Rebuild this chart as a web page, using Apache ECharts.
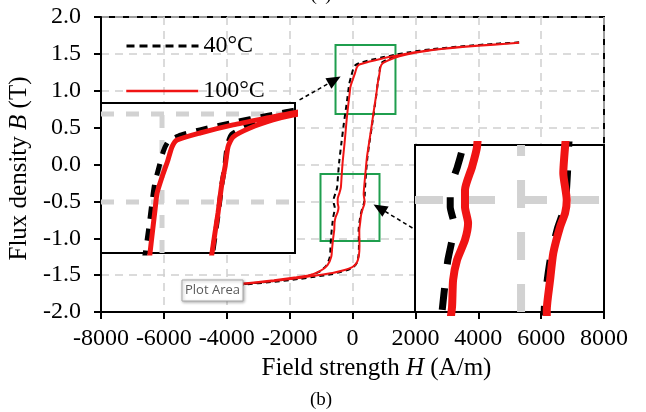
<!DOCTYPE html>
<html>
<head>
<meta charset="utf-8">
<script src="https://cdn.jsdelivr.net/npm/echarts@6/dist/echarts.min.js"></script>
<style>html,body{margin:0;padding:0;background:#fff}#c{width:646px;height:412px}</style>
</head>
<body>
<div id="c"></div>
<script>
// ---- data (H in A/m, B in T) ----
const xTicks = [-8000, -6000, -4000, -2000, 0, 2000, 4000, 6000, 8000];
const yTicks = [-2.0, -1.5, -1.0, -0.5, 0.0, 0.5, 1.0, 1.5, 2.0];
const seriesNames = ['40°C', '100°C'];

const desc100 = [[5300,1.65],[4500,1.628],[3500,1.595],[2500,1.552],[1758,1.506],[1409,1.477],[953,1.438],[510,1.392],[201,1.352],[134,1.313],[80,1.239],[0,1.142],[-67,1.05],[-94,0.955],[-121,0.858],[-161,0.71],[-200,0.54],[-250,0.3],[-310,0.05],[-345,-0.15],[-370,-0.31],[-412,-0.382],[-471,-0.464],[-471,-0.525],[-445,-0.582],[-471,-0.643],[-538,-0.715],[-571,-0.787],[-580,-0.884],[-615,-1.0],[-645,-1.12],[-675,-1.25],[-795,-1.363],[-1050,-1.45],[-1400,-1.505],[-1790,-1.53],[-2500,-1.57],[-3500,-1.615],[-4500,-1.645],[-5300,-1.66]];
const asc100 = [[-5300,-1.66],[-4500,-1.648],[-3500,-1.62],[-2500,-1.58],[-1700,-1.54],[-1200,-1.508],[-636,-1.47],[-250,-1.43],[0,-1.39],[140,-1.33],[205,-1.23],[222,-1.1],[218,-0.99],[216,-0.894],[244,-0.787],[271,-0.69],[328,-0.596],[370,-0.547],[384,-0.5],[355,-0.404],[370,-0.309],[410,-0.12],[460,0.1],[530,0.3],[600,0.5],[671,0.71],[711,0.824],[752,0.938],[779,1.028],[805,1.108],[846,1.199],[886,1.313],[953,1.369],[1181,1.42],[1490,1.466],[1758,1.494],[2500,1.548],[3500,1.592],[4500,1.625],[5300,1.65]];
const desc40 = [[5300,1.655],[4500,1.635],[3500,1.603],[2500,1.562],[1758,1.52],[1409,1.492],[953,1.453],[510,1.41],[220,1.375],[80,1.342],[20,1.29],[-40,1.2],[-100,1.1],[-140,0.98],[-175,0.86],[-225,0.71],[-280,0.54],[-350,0.3],[-420,0.05],[-460,-0.15],[-490,-0.31],[-535,-0.382],[-595,-0.464],[-595,-0.525],[-565,-0.582],[-580,-0.643],[-615,-0.715],[-635,-0.787],[-660,-0.884],[-685,-1.0],[-700,-1.12],[-720,-1.25],[-830,-1.37],[-1080,-1.46],[-1420,-1.512],[-1790,-1.54],[-2500,-1.58],[-3500,-1.622],[-4500,-1.65],[-5300,-1.665]];
const asc40 = [[-5300,-1.665],[-4500,-1.653],[-3500,-1.628],[-2500,-1.59],[-1700,-1.552],[-1200,-1.522],[-636,-1.484],[-250,-1.442],[0,-1.40],[130,-1.34],[190,-1.24],[205,-1.1],[200,-0.99],[195,-0.894],[220,-0.787],[255,-0.69],[310,-0.596],[350,-0.547],[375,-0.5],[390,-0.404],[400,-0.309],[430,-0.12],[475,0.1],[540,0.3],[610,0.5],[680,0.71],[718,0.824],[756,0.938],[782,1.028],[806,1.108],[842,1.2],[876,1.32],[935,1.385],[1160,1.435],[1470,1.478],[1758,1.505],[2500,1.556],[3500,1.6],[4500,1.633],[5300,1.655]];

// zoom windows (data ranges)
const zoomBoxUpper = [[-540, 1.62], [1367, 0.685]];
const zoomBoxLower = [[-1018, -0.129], [859, -1.037]];
const insetUpperX = [-819, 1785], insetUpperY = [0.71, 1.5625];
const insetLowerX = [-891, 697],  insetLowerY = [-0.901, -0.303];
const insetUpperGridX = [0], insetUpperGridY = [1.0, 1.5];
const insetLowerGridX = [0], insetLowerGridY = [-0.5];
const arrowUpper = [[-1685, 0.875], [-572, 1.146]];
const arrowLower = [[1908, -0.861], [859, -0.59]];

const loop100 = desc100.concat(asc100);
const loop40 = desc40.concat(asc40);

const SERIF = 'Liberation Serif';
const RED = '#f01414';
const GREEN = '#1f9e4e';

const chart = echarts.init(document.getElementById('c'), null, {renderer: 'canvas'});

function curve(name, data, xi, color, width, dash, z) {
  return {
    type: 'line', name: name, data: data, xAxisIndex: xi, yAxisIndex: xi,
    symbol: 'none', showSymbol: false, smooth: 0.2, z: z, silent: true,
    lineStyle: {color: color, width: width, type: dash || 'solid', cap: 'butt'},
    itemStyle: {color: color}
  };
}

const main100 = curve(seriesNames[1], loop100, 0, RED, 2, null, 4);
main100.markArea = {
  silent: true, label: {show: false},
  itemStyle: {color: 'rgba(0,0,0,0)', borderColor: GREEN, borderWidth: 2},
  data: [[{coord: zoomBoxUpper[0]}, {coord: zoomBoxUpper[1]}], [{coord: zoomBoxLower[0]}, {coord: zoomBoxLower[1]}]]
};
main100.markLine = {
  silent: true, symbol: ['none', 'triangle'], symbolSize: [12, 14], label: {show: false},
  lineStyle: {color: '#000', width: 1.5, type: [4, 3]}, itemStyle: {color: '#000'},
  data: [[{coord: arrowUpper[0]}, {coord: arrowUpper[1]}], [{coord: arrowLower[0]}, {coord: arrowLower[1]}]]
};

const hiddenAxis = (gi, r) => ({gridIndex: gi, type: 'value', min: r[0], max: r[1], show: false});

const legendCommon = {
  left: 120, itemWidth: 72, itemHeight: 24, selectedMode: false,
  itemStyle: {opacity: 0, color: 'rgba(0,0,0,0)', borderWidth: 0},
  textStyle: {fontSize: 24, color: '#000', fontFamily: SERIF}
};

const staticGraphics = [
  {id: 'pa_box', type: 'rect', z: 100, shape: {x: 182, y: 280, width: 61, height: 21},
   style: {fill: '#fff', stroke: '#a8a8a8', lineWidth: 1, shadowBlur: 3, shadowColor: 'rgba(0,0,0,0.3)', shadowOffsetX: 1, shadowOffsetY: 1}},
  {id: 'pa_text', type: 'text', z: 101, x: 212.5, y: 290.5,
   style: {text: 'Plot Area', font: '13px "Open Sans"', fill: '#5a5a5a', align: 'center', verticalAlign: 'middle'}},
  {id: 'cap_b', type: 'text', z: 100, x: 321, y: 400,
   style: {text: '(b)', font: '19px "Liberation Serif"', fill: '#000', align: 'center', verticalAlign: 'middle'}},
  {id: 'cap_a', type: 'text', z: 100, x: 321, y: 5,
   style: {text: '(a)', font: '19px "Liberation Serif"', fill: '#000', align: 'center', verticalAlign: 'bottom'}}
];

const option = {
  animation: false,
  backgroundColor: '#fff',
  textStyle: {fontFamily: SERIF},
  legend: [
    Object.assign({}, legendCommon, {data: [seriesNames[0]], top: 29, lineStyle: {width: 3, type: [8, 5], color: '#000'}}),
    Object.assign({}, legendCommon, {data: [seriesNames[1]], top: 74, lineStyle: {width: 2.5, color: RED}})
  ],
  grid: [
    {left: 101, top: 17, width: 503, height: 295, show: true, borderColor: '#000', borderWidth: 2, backgroundColor: '#fff', outerBoundsMode: 'none', containLabel: false},
    {left: 101, top: 103, width: 194, height: 150, show: true, borderColor: '#000', borderWidth: 2, backgroundColor: '#fff', z: 10, outerBoundsMode: 'none'},
    {left: 415, top: 145, width: 189, height: 167, show: true, borderColor: '#000', borderWidth: 2, backgroundColor: '#fff', z: 10, outerBoundsMode: 'none'}
  ],
  xAxis: [
    {gridIndex: 0, type: 'value', min: xTicks[0], max: xTicks[xTicks.length - 1], interval: 2000,
     axisLine: {onZero: false, lineStyle: {color: '#000', width: 2}},
     axisTick: {show: true, length: 7, lineStyle: {color: '#000', width: 2}},
     axisLabel: {color: '#000', fontSize: 24, margin: 15, fontFamily: SERIF, formatter: v => String(v)},
     splitLine: {show: true, lineStyle: {color: '#cfcfcf', width: 1.5, type: [8, 6]}},
     name: 'Field strength {i|H} (A/m)', nameLocation: 'middle', nameGap: 44,
     nameTextStyle: {fontSize: 25, color: '#000', fontFamily: SERIF, padding: [0, 0, 0, 48],
       rich: {i: {fontStyle: 'italic', fontSize: 25, color: '#000', fontFamily: SERIF}}}},
    hiddenAxis(1, insetUpperX),
    hiddenAxis(2, insetLowerX)
  ],
  yAxis: [
    {gridIndex: 0, type: 'value', min: yTicks[0], max: yTicks[yTicks.length - 1], interval: 0.5,
     axisLine: {onZero: false, lineStyle: {color: '#000', width: 2}},
     axisTick: {show: true, length: 7, lineStyle: {color: '#000', width: 2}},
     axisLabel: {color: '#000', fontSize: 24, margin: 20, fontFamily: SERIF, formatter: v => v.toFixed(1)},
     splitLine: {show: true, lineStyle: {color: '#cfcfcf', width: 1.5, type: [8, 6]}},
     name: 'Flux density {i|B} (T)', nameLocation: 'middle', nameGap: 63,
     nameTextStyle: {fontSize: 25, color: '#000', fontFamily: SERIF, padding: [0, 8, 0, 0],
       rich: {i: {fontStyle: 'italic', fontSize: 25, color: '#000', fontFamily: SERIF}}}},
    hiddenAxis(1, insetUpperY),
    hiddenAxis(2, insetLowerY)
  ],
  series: [
    curve(seriesNames[0], loop40, 0, '#000', 2, [5, 4], 3),
    main100,
    curve('40 upper inset', loop40, 1, '#000', 5, [12, 10], 12),
    curve('100 upper inset', loop100, 1, RED, 5, null, 13),
    curve('40 lower inset', loop40, 2, '#000', 7, [22, 24], 12),
    curve('100 lower inset', loop100, 2, RED, 8, null, 13)
  ],
  graphic: staticGraphics
};
chart.setOption(option);

// inset grid lines: positioned through the inset axes' own scales
function insetGridLines(xi, xr, yr, xs, ys, width, dash) {
  const finder = {xAxisIndex: xi, yAxisIndex: xi};
  const segs = xs.map(v => [[v, yr[0]], [v, yr[1]]]).concat(ys.map(v => [[xr[0], v], [xr[1], v]]));
  return segs.map((s, k) => {
    const a = chart.convertToPixel(finder, s[0]);
    const b = chart.convertToPixel(finder, s[1]);
    return {id: 'ig' + xi + '_' + k, type: 'line', z: 11, silent: true,
      shape: {x1: a[0], y1: a[1], x2: b[0], y2: b[1]},
      style: {stroke: '#d2d2d2', lineWidth: width, lineDash: dash}};
  });
}
chart.setOption({
  graphic: staticGraphics.concat(
    insetGridLines(1, insetUpperX, insetUpperY, insetUpperGridX, insetUpperGridY, 5, [13, 12]),
    insetGridLines(2, insetLowerX, insetLowerY, insetLowerGridX, insetLowerGridY, 8, [28, 24])
  )
});
</script>
</body>
</html>
